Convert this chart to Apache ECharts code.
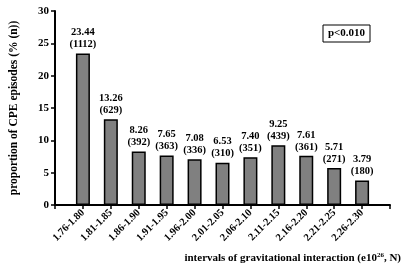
<!DOCTYPE html>
<html><head><meta charset="utf-8">
<script src="https://cdn.jsdelivr.net/npm/echarts@6/dist/echarts.min.js"></script>
<style>html,body{margin:0;padding:0;background:#fff}#c{width:401px;height:271px}</style>
</head><body><div id="c"></div>
<script>
const categories = ['1.76-1.80','1.81-1.85','1.86-1.90','1.91-1.95','1.96-2.00','2.01-2.05','2.06-2.10','2.11-2.15','2.16-2.20','2.21-2.25','2.26-2.30'];
const percents = [23.44,13.26,8.26,7.65,7.08,6.53,7.40,9.25,7.61,5.71,3.79];
const counts = [1112,629,392,363,336,310,351,439,361,271,180];
const yTicks = [0,5,10,15,20,25,30];

const F = '"Liberation Serif","Times New Roman",serif';
const cats = [''].concat(categories, ['']);
const data = [null].concat(percents.map((v,i)=>({value:v, n:counts[i]})), [null]);

const chart = echarts.init(document.getElementById('c'));
chart.setOption({
  animation:false,
  grid:{left:48,right:11,top:11,bottom:66},
  xAxis:{type:'category',data:cats,boundaryGap:false,
    axisLine:{lineStyle:{color:'#000',width:2}},
    axisTick:{show:true,length:4,lineStyle:{color:'#000',width:1.5},interval:0},
    axisLabel:{rotate:45,interval:0,fontFamily:F,fontWeight:'bold',fontSize:10.5,color:'#000',margin:6}},
  yAxis:{type:'value',min:0,max:30,interval:5,
    name:'proportion of CPE episodes (% (n))',nameLocation:'middle',nameGap:35,
    nameTextStyle:{fontFamily:F,fontWeight:'bold',fontSize:11.5,color:'#000'},
    axisLine:{show:true,lineStyle:{color:'#000',width:2}},
    axisTick:{show:true,length:4,lineStyle:{color:'#000',width:1.5}},
    splitLine:{show:false},
    axisLabel:{fontFamily:F,fontWeight:'bold',fontSize:11,color:'#000',margin:6,
      formatter:v=>yTicks.includes(v)?String(v):''}},
  series:[{type:'bar',data:data,barWidth:14,
    itemStyle:{color:'#808080',borderColor:'#000',borderWidth:1.5},
    label:{show:true,position:'top',distance:3,fontFamily:F,fontWeight:'bold',fontSize:10.5,color:'#000',lineHeight:12,
      formatter:p=>p.data? p.data.value.toFixed(2)+'\n('+p.data.n+')':''}}],
  graphic:[
    {type:'rect',shape:{x:323,y:25,width:47,height:17},style:{fill:'#fff',stroke:'#000',lineWidth:1}},
    {type:'text',x:346.5,y:33.5,style:{text:'p<0.010',fontFamily:F,fontWeight:'bold',fontSize:11,fill:'#000',align:'center',verticalAlign:'middle'}},
    {type:'text',x:401,y:258,style:{text:'{a|intervals of gravitational interaction (e10}{s|26}{a|, N)}',align:'right',verticalAlign:'middle',
      rich:{a:{fontFamily:F,fontWeight:'bold',fontSize:11,fill:'#000'},s:{fontFamily:F,fontWeight:'bold',fontSize:7,fill:'#000',verticalAlign:'top',padding:[0,0,5,0]}}}}
  ]
});
</script></body></html>
